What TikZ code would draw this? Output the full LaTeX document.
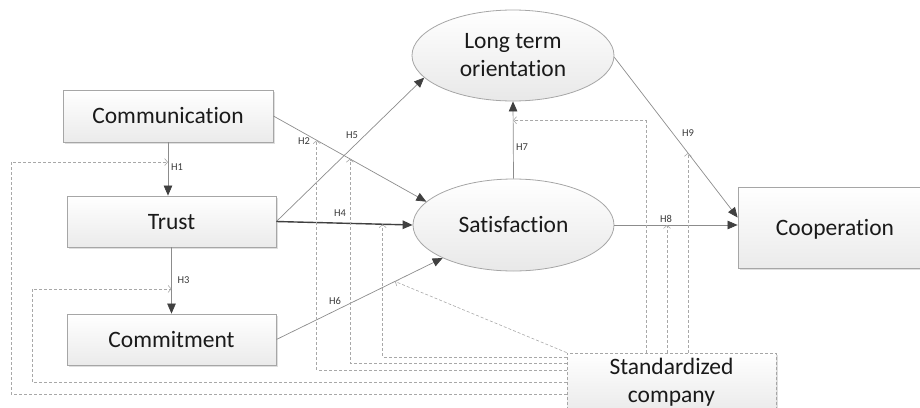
\documentclass[tikz,border=0pt]{standalone}
\usepackage{fontspec}
\setmainfont{Carlito}[Ligatures=NoCommon]
\usetikzlibrary{arrows.meta,shapes.geometric,shadows,calc}
\definecolor{bord}{HTML}{A6A6A6}
\definecolor{linec}{HTML}{8C8C8C}
\definecolor{headc}{HTML}{404040}
\definecolor{dashc}{HTML}{A8A8A8}
\definecolor{txt}{HTML}{1A1A1A}
\definecolor{lab}{HTML}{3A3A3A}
\begin{document}
\begin{tikzpicture}[x=1pt,y=-1pt,
  box/.style={draw=bord, line width=0.8pt, top color=white, bottom color=gray!16,
    minimum width=209pt, minimum height=51pt, inner sep=0pt, text=txt,
    font=\fontsize{23.5}{28}\selectfont,
    drop shadow={shadow xshift=1.5pt, shadow yshift=-1.5pt, opacity=0.25}},
  oneline/.style={text height=18.8pt, text depth=3.8pt},
  oval/.style={ellipse, draw=bord, line width=0.8pt, top color=white, bottom color=gray!18,
    minimum width=201pt, minimum height=92pt, inner sep=0pt, align=center, text=txt,
    font=\fontsize{23.5}{28}\selectfont},
  arr/.style={draw=linec, line width=0.7pt, -{Triangle[length=10pt,width=8.5pt,color=headc]}},
  thickarr/.style={draw=headc, line width=1.4pt, -{Triangle[length=10pt,width=8.5pt,color=headc]}},
  mod/.style={draw=dashc, line width=0.6pt, dash pattern=on 3pt off 2pt,
    -{Straight Barb[length=3pt,width=7pt]}},
  hlab/.style={font=\fontsize{10.5}{12}\selectfont, text=lab, inner sep=0pt}
]
\useasboundingbox (0,0) rectangle (920,407);
\clip (0,0) rectangle (920,407);

% nodes
\node[box, oneline, minimum width=210pt, minimum height=52pt] (comm) at (168,116) {Communication};
\node[box, oneline] (trust) at (171.5,221.5) {Trust};
\node[box, oneline] (commit) at (171.5,339.5) {Commitment};
\node[box, oneline, minimum width=194pt, minimum height=81pt] (coop) at (835,227.5) {Cooperation};
\node[oval, oneline] (sat) at (513.5,225) {Satisfaction};
\node[oval, minimum width=202pt, minimum height=91pt] (lto) at (513,55.5) {Long term\\orientation};
\node[box, dashed, dash pattern=on 3pt off 2pt, align=center, minimum height=58pt, drop shadow={opacity=0}] (std) at (671.5,382) {Standardized\\company};

% hypotheses
\draw[arr] (comm.south) -- coordinate[pos=0.37] (m1) (comm.south |- trust.north);
\draw[arr] (trust.south) -- coordinate[pos=0.627] (m3) (commit.north);
\draw[arr] (comm.east) -- coordinate[pos=0.283] (m2a) coordinate[pos=0.5] (m2b) (sat.165);
\draw[arr] (trust.east) -- (lto.194);
\draw[thickarr] (trust.east) -- coordinate[pos=0.78] (m4) (sat.west);
\draw[arr] (commit.east) -- coordinate[pos=0.713] (m6) (sat.205);
\draw[arr] (sat.north) -- coordinate[pos=0.756] (m7) (lto.south);
\draw[arr] (sat.east) -- coordinate[pos=0.427] (m8) (sat.east -| coop.west);
\draw[arr] (lto.-1) -- coordinate[pos=0.597] (m9) ([yshift=10pt]coop.west);

% labels
\node[hlab] (h1) at (177,167) {H1};
\node[hlab] (h2) at (304,141.5) {H2};
\node[hlab] (h3) at (183.5,280) {H3};
\node[hlab] (h4) at (340,213) {H4};
\node[hlab] (h5) at (352,135) {H5};
\node[hlab] (h6) at (335,301) {H6};
\node[hlab] (h7) at (522,147) {H7};
\node[hlab] (h8) at (666,219) {H8};
\node[hlab] (h9) at (688,133) {H9};

% moderating effects
\draw[mod] (std.west |- 0,394) -- (11,394) |- (m1);
\draw[mod] (std.west |- 0,382) -- (32,382) |- (m3);
\draw[mod] (std.west |- 0,370) -| (m2a);
\draw[mod] (std.west |- 0,363) -| (m2b);
\draw[mod] (std.west |- 0,357) -| (m4);
\draw[mod] (std.north west) -- (m6);
\draw[mod] (std.north -| 646,0) |- (m7);
\draw[mod] (std.north -| m8) -- (m8);
\draw[mod] (std.north -| m9) -- (m9);
\end{tikzpicture}
\end{document}
